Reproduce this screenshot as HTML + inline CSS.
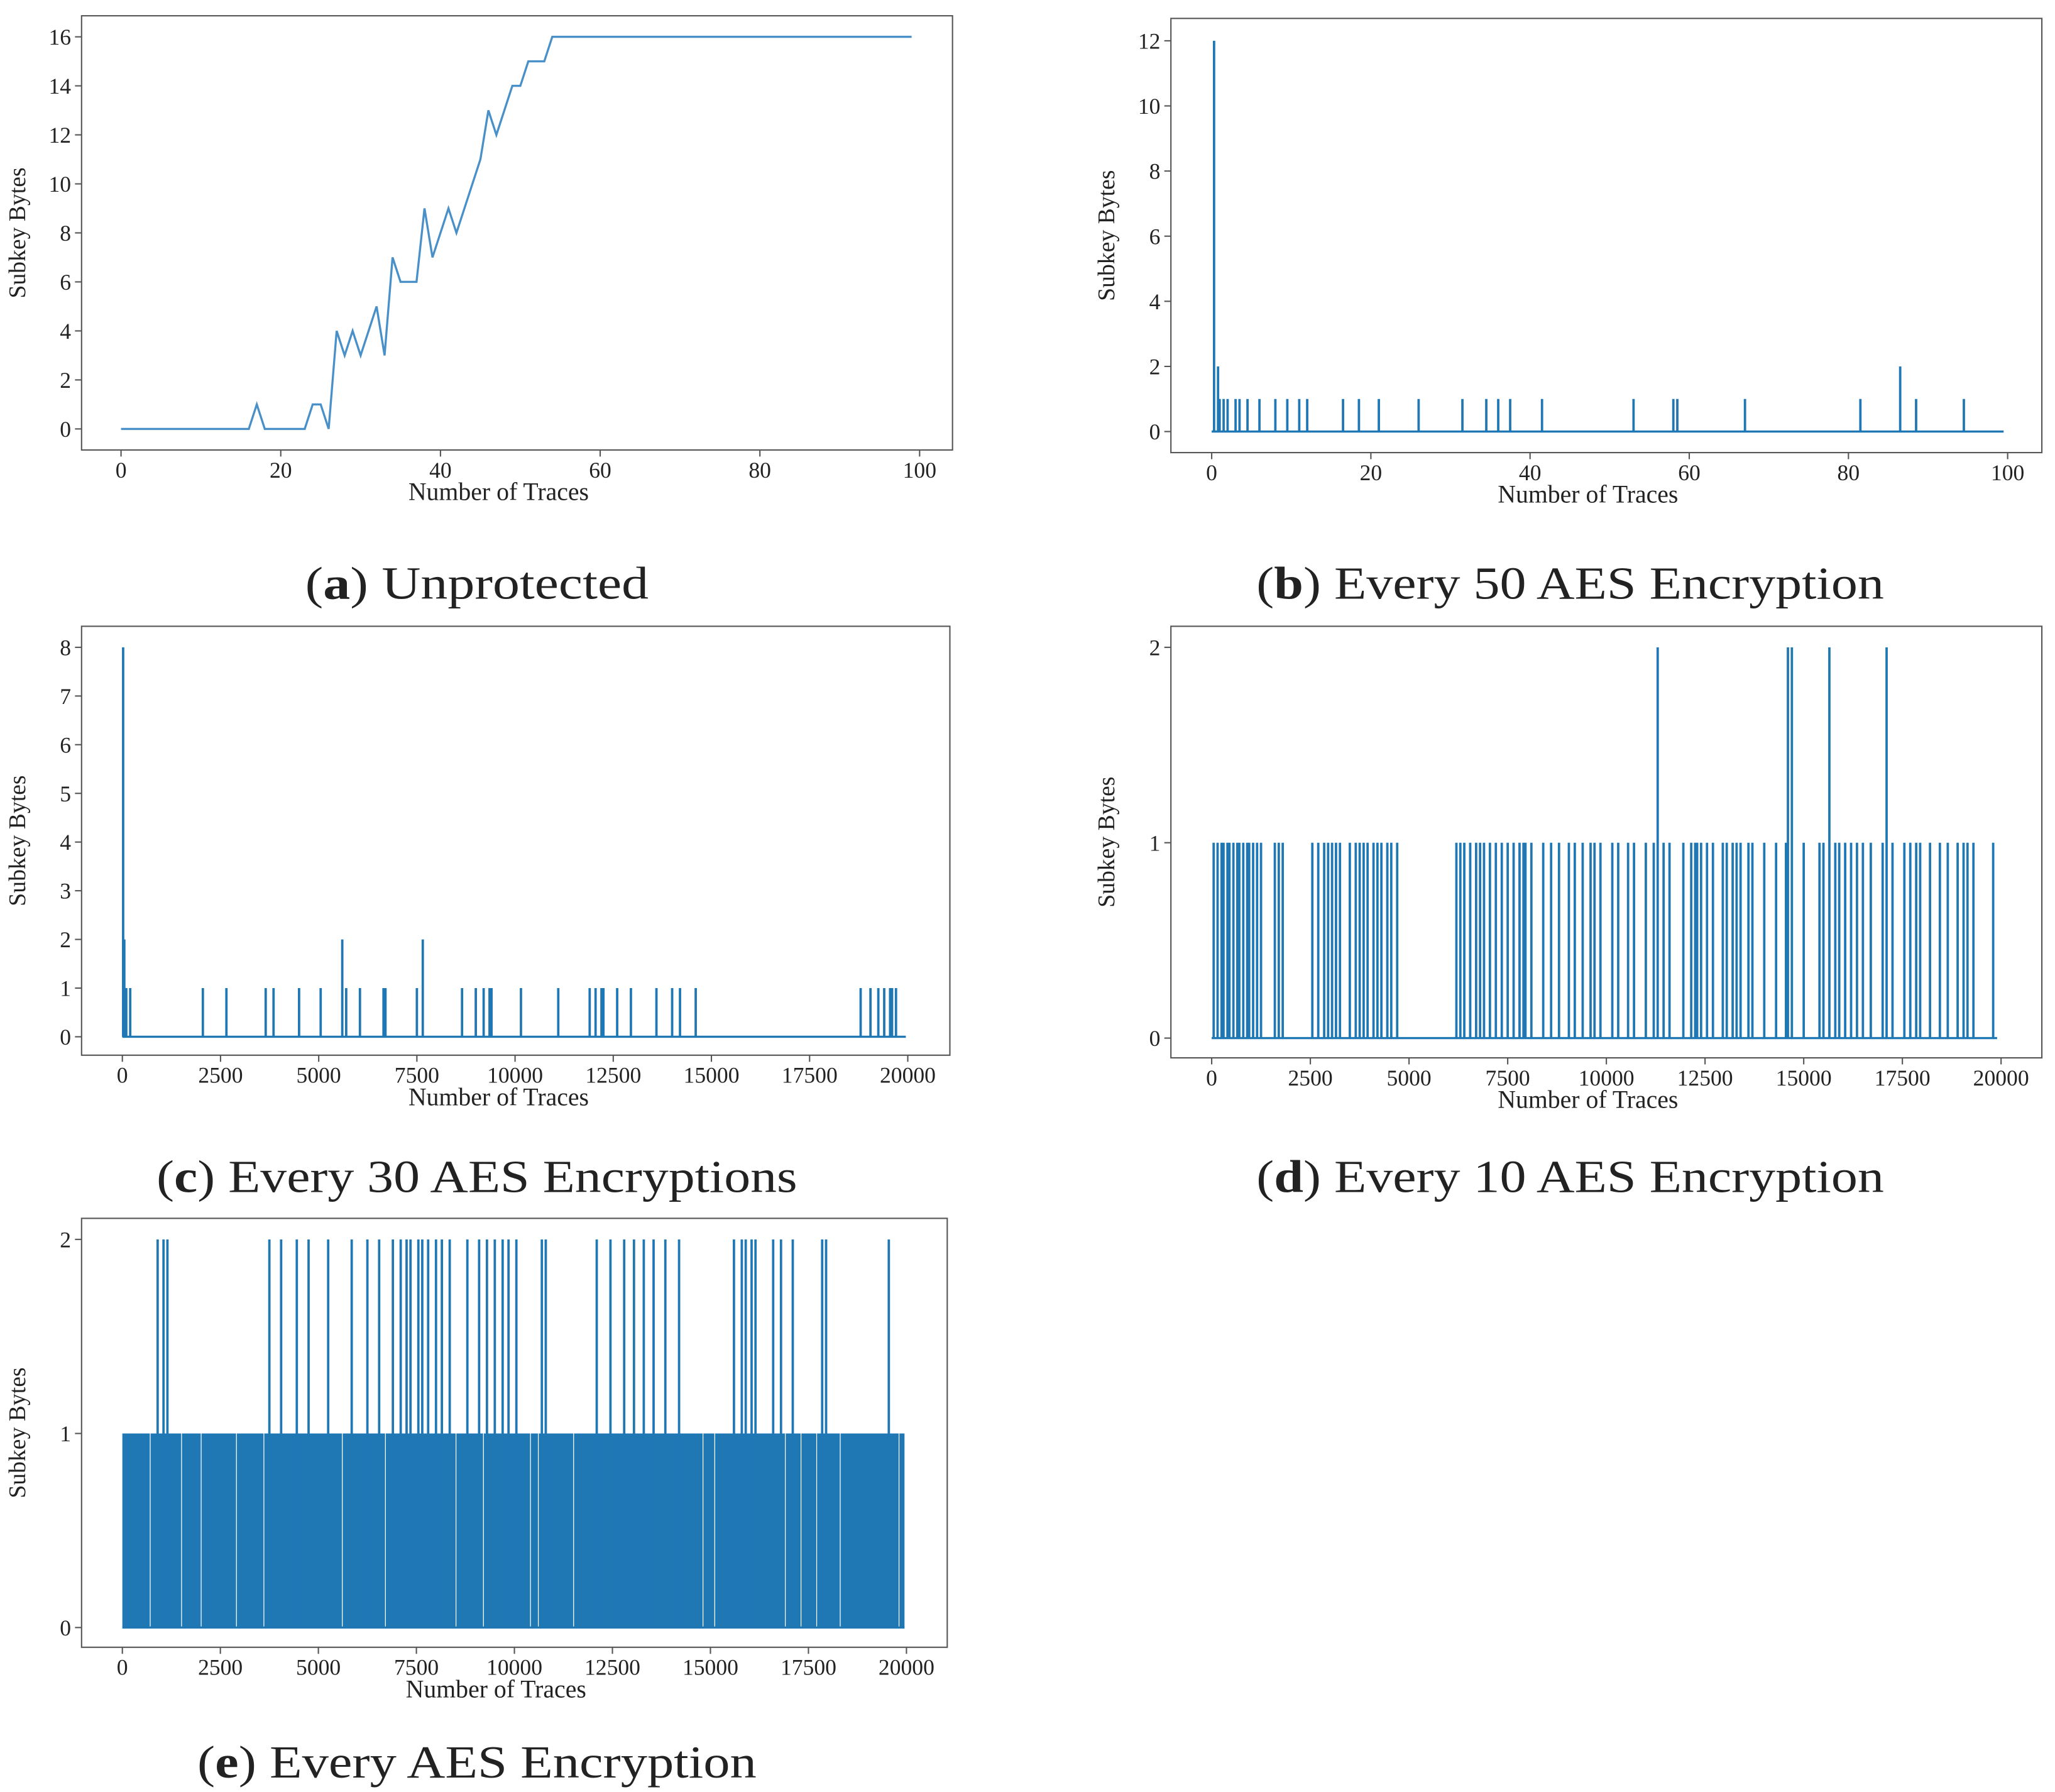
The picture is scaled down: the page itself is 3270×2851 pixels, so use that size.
<!DOCTYPE html>
<html><head><meta charset="utf-8">
<style>
html,body{margin:0;padding:0;background:#fff;}
svg{display:block;}
text{font-family:"Liberation Serif",serif;fill:#222;}
</style></head>
<body>
<svg id="fig" width="3270" height="2851" viewBox="0 0 1562 1362" preserveAspectRatio="none" xmlns="http://www.w3.org/2000/svg">
<rect width="1562" height="1362" fill="#fff"/>
<g id="cap">
<text x="232" y="455" font-size="35" textLength="261" lengthAdjust="spacingAndGlyphs">(<tspan font-weight="bold">a</tspan>) Unprotected</text>
<text x="955" y="455" font-size="35" textLength="477" lengthAdjust="spacingAndGlyphs">(<tspan font-weight="bold">b</tspan>) Every 50 AES Encryption</text>
<text x="119" y="906" font-size="35" textLength="487" lengthAdjust="spacingAndGlyphs">(<tspan font-weight="bold">c</tspan>) Every 30 AES Encryptions</text>
<text x="955" y="906" font-size="35" textLength="477" lengthAdjust="spacingAndGlyphs">(<tspan font-weight="bold">d</tspan>) Every 10 AES Encryption</text>
<text x="150" y="1351" font-size="35" textLength="425" lengthAdjust="spacingAndGlyphs">(<tspan font-weight="bold">e</tspan>) Every AES Encryption</text>
</g>
</svg>
<script>
// Panel a data (line)
const aX = [0,16,17,18,23,24,25,26,27,28,29,30,32,33,34,35,37,38,39,41,42,44,45,46,47,49,50,51,53,54,99];
const aY = [0,0,1,0,0,1,1,0,4,3,4,3,5,3,7,6,6,9,7,9,8,10,11,13,12,14,14,15,15,16,16];
const aXTicks = [0,20,40,60,80,100];
const aYTicks = [0,2,4,6,8,10,12,14,16];
// Panel b spikes
const bX = [0.3,0.8,1,1.5,2,3,3.5,4.5,6,8,9.5,11,12,16.5,18.5,21,26,31.5,34.5,36,37.5,41.5,53,58,58.5,67,81.5,86.5,88.5,94.5];
const bY = [12,2,1,1,1,1,1,1,1,1,1,1,1,1,1,1,1,1,1,1,1,1,1,1,1,1,1,2,1,1];
const bXTicks = [0,20,40,60,80,100];
const bYTicks = [0,2,4,6,8,10,12];
// Panel c spikes
const cX = [20,50,100,200,2050,2650,3650,3850,4500,5050,5600,5700,6050,6650,6700,7500,7650,8650,9000,9200,9350,9400,10150,11100,11900,12050,12200,12250,12600,12950,13600,14000,14200,14600,18800,19050,19250,19400,19550,19600,19700];
const cY = [8,2,1,1,1,1,1,1,1,1,2,1,1,1,1,1,2,1,1,1,1,1,1,1,1,1,1,1,1,1,1,1,1,1,1,1,1,1,1,1,1];
const cXTicks = [0,2500,5000,7500,10000,12500,15000,17500,20000];
const cYTicks = [0,1,2,3,4,5,6,7,8];
// Panel d spikes
const dX = [50,150,250,300,400,450,550,650,700,800,900,950,1050,1150,1250,1600,1700,1800,2550,2700,2850,2950,3050,3150,3250,3500,3650,3750,3850,3950,4100,4200,4300,4450,4550,4700,6200,6300,6400,6550,6700,6800,6900,7050,7200,7350,7500,7650,7800,7900,7950,8100,8400,8600,8800,9050,9200,9400,9600,9700,9850,10150,10300,10550,10700,11000,11200,11300,11450,11600,11950,12150,12250,12300,12400,12550,12700,12950,13050,13200,13300,13400,13600,13700,14000,14300,14550,14600,14700,15000,15400,15500,15650,15800,15900,16050,16200,16350,16500,16700,17000,17100,17250,17550,17700,17850,17950,18200,18450,18650,18900,19050,19150,19300,19800];
const dY = [1,1,1,1,1,1,1,1,1,1,1,1,1,1,1,1,1,1,1,1,1,1,1,1,1,1,1,1,1,1,1,1,1,1,1,1,1,1,1,1,1,1,1,1,1,1,1,1,1,1,1,1,1,1,1,1,1,1,1,1,1,1,1,1,1,1,1,2,1,1,1,1,1,1,1,1,1,1,1,1,1,1,1,1,1,1,1,2,2,1,1,1,2,1,1,1,1,1,1,1,1,2,1,1,1,1,1,1,1,1,1,1,1,1,1];
const dXTicks = [0,2500,5000,7500,10000,12500,15000,17500,20000];
const dYTicks = [0,1,2];
// Panel e: bands at value 1 and spikes at value 2
const eBandStart = [0,720,1520,2020,2920,3620,5620,6720,8520,9220,10420,10620,10720,10820,11520,14820,15120,16920,17320,17720,18320,19820];
const eBandEnd   = [700,1500,2000,2900,3600,5600,6700,8500,9200,10400,10600,10700,10800,11500,14800,15100,16900,17300,17700,18300,19800,19950];
const eX = [900,1050,1150,3750,4050,4450,4750,5250,5850,6250,6550,6900,7100,7250,7350,7550,7650,7800,8000,8150,8350,8800,9100,9300,9500,9700,9850,10050,10700,10800,12100,12450,12800,13050,13300,13550,13850,14200,15600,15800,15900,16050,16150,16600,16800,17100,17850,17950,19550];
const eY = [2,2,2,2,2,2,2,2,2,2,2,2,2,2,2,2,2,2,2,2,2,2,2,2,2,2,2,2,2,2,2,2,2,2,2,2,2,2,2,2,2,2,2,2,2,2,2,2,2];
const eXTicks = [0,2500,5000,7500,10000,12500,15000,17500,20000];
const eYTicks = [0,1,2];

const NS='http://www.w3.org/2000/svg';
const svg=document.getElementById('fig');
const C='#1f77b4';
function mk(tag,attrs,parent){const e=document.createElementNS(NS,tag);for(const k in attrs)e.setAttribute(k,attrs[k]);(parent||svg).appendChild(e);return e;}

function panel(id,box,xr,yr,xmax,ymax,xt,yt,xlabX){
  const g=mk('g',{});
  
  
  const sx=v=>xr[0]+(xr[1]-xr[0])*v/xmax;
  const sy=v=>yr[0]+(yr[1]-yr[0])*v/ymax;
  const frame=mk('rect',{x:box[0],y:box[1],width:box[2]-box[0],height:box[3]-box[1],fill:'none',stroke:'#555','stroke-width':1},g);
  
  
  xt.forEach(t=>{
    mk('line',{x1:sx(t),x2:sx(t),y1:box[3],y2:box[3]+5,stroke:'#555','stroke-width':1},g);
    const tx=mk('text',{x:sx(t),y:box[3]+21,'font-size':17,'text-anchor':'middle'},g);
    tx.textContent=t;
    
    
  });
  yt.forEach(t=>{
    mk('line',{x1:box[0]-5,x2:box[0],y1:sy(t),y2:sy(t),stroke:'#555','stroke-width':1},g);
    const tx=mk('text',{x:box[0]-8,y:sy(t)+6,'font-size':17,'text-anchor':'end'},g);
    tx.textContent=t;
    
    
  });
  const xl=mk('text',{x:xlabX,y:box[3]+38,'font-size':19,'text-anchor':'middle'},g);
  xl.textContent='Number of Traces';
  
  
  const cy=(box[1]+box[3])/2, cx=box[0]-43;
  const yl=mk('text',{x:cx,y:cy,'font-size':18,'text-anchor':'middle',transform:`rotate(-90 ${cx} ${cy})`},g);
  yl.textContent='Subkey Bytes';
  
  
  return {g,sx,sy};
}

// a
let p=panel('a',[62,12,724,342],[92,699],[326,28],100,16,aXTicks,aYTicks,379);
let d=aX.map((x,i)=>(i?'L':'M')+p.sx(x)+' '+p.sy(aY[i])).join(' ');
let ln=mk('path',{d,fill:'none',stroke:'#4a90c8','stroke-width':1.6},p.g);



function spikes(p,xs,ys,xend){
  const base=mk('line',{x1:p.sx(0),x2:p.sx(xend),y1:p.sy(0),y2:p.sy(0),stroke:C,'stroke-width':1.6},p.g);
  
  
  xs.forEach((x,i)=>{
    const s=mk('line',{x1:p.sx(x),x2:p.sx(x),y1:p.sy(0),y2:p.sy(ys[i]),stroke:C,'stroke-width':1.8},p.g);
    
    
  });
}
p=panel('b',[890,14,1552,344],[921,1526],[328,31],100,12,bXTicks,bYTicks,1207);
spikes(p,bX,bY,99.5);
p=panel('c',[62,476,722,802],[93,690],[788,492],20000,8,cXTicks,cYTicks,379);
spikes(p,cX,cY,19950);
p=panel('d',[890,476,1552,804],[921,1521],[789,492],20000,2,dXTicks,dYTicks,1207);
spikes(p,dX,dY,19900);
p=panel('e',[62,926,720,1252],[93,689],[1237,942],20000,2,eXTicks,eYTicks,377);
eBandStart.forEach((s,i)=>{
  const r=mk('rect',{x:p.sx(s),y:p.sy(1),width:p.sx(eBandEnd[i])-p.sx(s),height:p.sy(0)-p.sy(1),fill:C},p.g);
  
  
});
spikes(p,eX,eY,19950);
</script>
</body></html>
